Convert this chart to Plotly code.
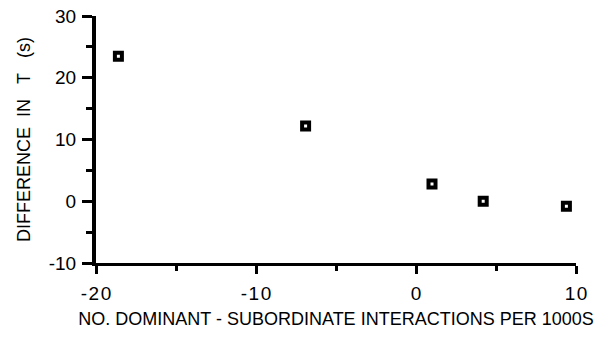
import plotly.graph_objects as go

x_vals = [-18.6, -6.9, 1.0, 4.2, 9.4]
y_vals = [23.5, 12.2, 2.8, 0.0, -0.8]

x_ticks = [-20, -10, 0, 10]
y_ticks = [-10, 0, 10, 20, 30]

font = "Liberation Sans, Arial, Helvetica, sans-serif"
nb = "\u00a0"
hair = "\u200a"

fig = go.Figure()
fig.add_trace(go.Scatter(
    x=x_vals, y=y_vals, mode="markers",
    marker=dict(symbol="square", size=7, color="white",
                line=dict(color="black", width=4)),
    showlegend=False, cliponaxis=False,
))

fig.update_layout(
    width=616, height=338,
    margin=dict(l=96, r=40, t=16, b=75),
    plot_bgcolor="white", paper_bgcolor="white",
    font=dict(family=font, color="black", size=18),
)
fig.update_xaxes(
    range=[-20, 10], tickvals=x_ticks,
    ticktext=[hair.join(str(v)) for v in x_ticks],
    showgrid=False, zeroline=False, showline=True, linecolor="black", linewidth=3,
    ticks="outside", ticklen=8, tickwidth=3, tickcolor="black",
    minor=dict(tickvals=[-15, -5, 5], ticks="outside", ticklen=5, tickwidth=2.5, tickcolor="black"),
    ticklabelstandoff=3, automargin=False,
    tickfont=dict(size=19, family=font),
    title=dict(text="NO. DOMINANT - SUBORDINATE INTERACTIONS PER 1000S",
               font=dict(size=18, family=font), standoff=10),
)
fig.update_yaxes(
    range=[-10, 30], tickvals=y_ticks, ticktext=[str(v) for v in y_ticks],
    showgrid=False, zeroline=False, showline=True, linecolor="black", linewidth=4,
    ticks="outside", ticklen=10, tickwidth=3, tickcolor="black",
    minor=dict(tickvals=[-5, 5, 15, 25], ticks="outside", ticklen=6, tickwidth=2.5, tickcolor="black"),
    ticklabelstandoff=2, automargin=False,
    tickfont=dict(size=19, family=font),
    title=dict(text="DIFFERENCE" + nb * 2 + "IN" + nb * 3 + "T" + nb * 3 + "(s)",
               font=dict(size=18, family=font), standoff=14),
)

fig.write_html("out.html")
